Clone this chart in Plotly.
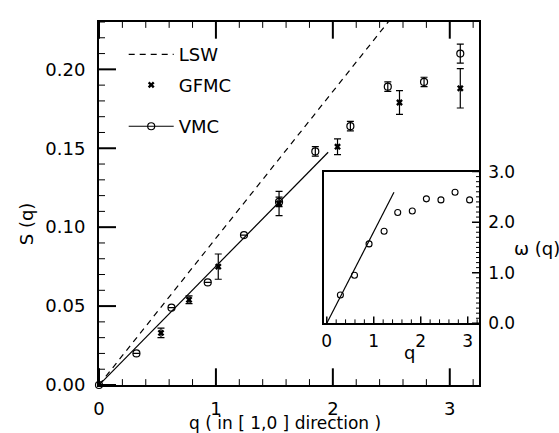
import plotly.graph_objects as go

# ---- data ----
lsw_q = [0.0, 2.5]
lsw_s = [0.0, 0.2325]

vmc_fit_q = [0.0, 1.96]
vmc_fit_s = [0.0, 0.1475]

vmc_q = [0.0, 0.32, 0.62, 0.93, 1.24, 1.54, 1.85, 2.15, 2.47, 2.78, 3.09]
vmc_s = [0.0, 0.020, 0.049, 0.065, 0.095, 0.116, 0.148, 0.164, 0.189, 0.192, 0.210]
vmc_err = [0.0, 0.0, 0.0, 0.0, 0.0, 0.003, 0.003, 0.003, 0.003, 0.003, 0.006]

gfmc_q = [0.53, 0.77, 1.02, 1.54, 2.04, 2.57, 3.09]
gfmc_s = [0.033, 0.054, 0.075, 0.115, 0.151, 0.179, 0.188]
gfmc_err = [0.003, 0.0025, 0.008, 0.0077, 0.005, 0.0075, 0.0125]

inset_q = [0.29, 0.59, 0.90, 1.22, 1.51, 1.82, 2.12, 2.43, 2.73, 3.04]
inset_w = [0.56, 0.95, 1.57, 1.82, 2.19, 2.22, 2.46, 2.44, 2.59, 2.44]
inset_fit_q = [0.0, 1.43]
inset_fit_w = [0.0, 2.59]

# tick positions
main_x_major = [0, 1, 2, 3]
main_x_minor = [round(0.2 * i, 2) for i in range(17) if i % 5 != 0]
main_y_major = [0.0, 0.05, 0.10, 0.15, 0.20]
main_y_minor = [round(0.01 * i, 2) for i in range(24) if i % 5 != 0]
inset_x_major = [0, 1, 2, 3]
inset_x_minor = [round(0.2 * i, 2) for i in range(17) if i % 5 != 0]
inset_y_major = [0.0, 1.0, 2.0, 3.0]
inset_y_minor = [round(0.1 * i, 2) for i in range(31) if i % 10 != 0]

FONT = "DejaVu Sans, Liberation Sans, Arial, sans-serif"
BLACK = "#000000"

MAIN_X_RANGE = [0, 3.25]
MAIN_Y_RANGE = [0, 0.23]
INSET_X_RANGE = [-0.06, 3.24]
INSET_Y_RANGE = [0, 3.0]

W, H = 559, 433
M = dict(l=99, r=80, t=15, b=48)
PW = W - M["l"] - M["r"]
PH = H - M["t"] - M["b"]
INSET_XD = [0.592, 1.0]
INSET_YD = [0.170, 0.588]
IPW = PW * (INSET_XD[1] - INSET_XD[0])
IPH = PH * (INSET_YD[1] - INSET_YD[0])

fig = go.Figure()

fig.add_trace(go.Scatter(x=lsw_q, y=lsw_s, mode="lines", name="LSW",
                         line=dict(color=BLACK, width=1.2, dash="6px,5px"),
                         legend="legend"))
fig.add_trace(go.Scatter(x=gfmc_q, y=gfmc_s, mode="markers", name="GFMC",
                         marker=dict(symbol="x", size=6, color=BLACK),
                         error_y=dict(type="data", array=gfmc_err, color=BLACK,
                                      thickness=1.2, width=3.5),
                         legend="legend2"))
fig.add_trace(go.Scatter(x=vmc_fit_q, y=vmc_fit_s, mode="lines", showlegend=False,
                         line=dict(color=BLACK, width=1.2)))
fig.add_trace(go.Scatter(x=vmc_q, y=vmc_s, mode="markers", showlegend=False,
                         marker=dict(symbol="circle-open", size=7, color=BLACK,
                                     line=dict(width=1.2, color=BLACK)),
                         error_y=dict(type="data", array=vmc_err, color=BLACK,
                                      thickness=1.2, width=3.5),
                         cliponaxis=False))
fig.add_trace(go.Scatter(x=[None], y=[None], mode="lines+markers", name="VMC",
                         line=dict(color=BLACK, width=1.2),
                         marker=dict(symbol="circle-open", size=7, color=BLACK,
                                     line=dict(width=1.2, color=BLACK)),
                         legend="legend3"))

fig.add_trace(go.Scatter(x=inset_fit_q, y=inset_fit_w, mode="lines", showlegend=False,
                         line=dict(color=BLACK, width=1.2), xaxis="x2", yaxis="y2"))
fig.add_trace(go.Scatter(x=inset_q, y=inset_w, mode="markers", showlegend=False,
                         marker=dict(symbol="circle-open", size=6, color=BLACK,
                                     line=dict(width=1.1, color=BLACK)),
                         xaxis="x2", yaxis="y2", cliponaxis=False))

# ---- tick marks drawn as axis-referenced shapes ----
shapes = []


def xticks(vals, xref, yref, length_px, plot_h, width, both=False):
    f = length_px / plot_h
    for v in vals:
        shapes.append(dict(type="line", xref=xref, yref=yref, x0=v, x1=v, y0=0, y1=f,
                           line=dict(color=BLACK, width=width), layer="above"))
        if both:
            shapes.append(dict(type="line", xref=xref, yref=yref, x0=v, x1=v, y0=1, y1=1 - f,
                               line=dict(color=BLACK, width=width), layer="above"))


def yticks(vals, xref, yref, length_px, plot_w, width, right=False):
    f = length_px / plot_w
    for v in vals:
        x0, x1 = (1, 1 - f) if right else (0, f)
        shapes.append(dict(type="line", xref=xref, yref=yref, x0=x0, x1=x1, y0=v, y1=v,
                           line=dict(color=BLACK, width=width), layer="above"))


xticks(main_x_major, "x", "y domain", 17, PH, 2, both=True)
xticks(main_x_minor, "x", "y domain", 6, PH, 1, both=True)
yticks(main_y_major, "x domain", "y", 17, PW, 2)
yticks(main_y_minor, "x domain", "y", 6, PW, 1)
xticks(inset_x_major, "x2", "y2 domain", 7, IPH, 1.5)
xticks(inset_x_minor, "x2", "y2 domain", 4, IPH, 1)
yticks(inset_y_major, "x2 domain", "y2", 7, IPW, 1.5, right=True)
yticks(inset_y_minor, "x2 domain", "y2", 3, IPW, 1, right=True)

leg = dict(x=0.065, xanchor="left", yanchor="middle", bgcolor="rgba(0,0,0,0)",
           font=dict(size=18), itemwidth=45)

common = dict(showgrid=False, zeroline=False, ticks="", tickmode="array")

fig.update_layout(
    width=W, height=H,
    margin=M,
    paper_bgcolor="white", plot_bgcolor="white",
    font=dict(family=FONT, size=17, color=BLACK),
    showlegend=True,
    legend=dict(leg, y=0.91),
    legend2=dict(leg, y=0.826),
    legend3=dict(leg, y=0.712),
    xaxis=dict(common, domain=[0, 1], range=MAIN_X_RANGE, tickvals=main_x_major,
               showline=True, linewidth=2, linecolor=BLACK, mirror=True,
               tickfont=dict(size=18), ticklabelstandoff=6),
    yaxis=dict(common, domain=[0, 1], range=MAIN_Y_RANGE, tickvals=main_y_major,
               tickformat=".2f",
               showline=True, linewidth=2, linecolor=BLACK, mirror=True,
               tickfont=dict(size=18), ticklabelstandoff=8),
    xaxis2=dict(common, domain=INSET_XD, anchor="y2", range=INSET_X_RANGE,
                tickvals=inset_x_major,
                showline=True, linewidth=1.5, linecolor=BLACK, mirror=True,
                tickfont=dict(size=17), ticklabelstandoff=2),
    yaxis2=dict(common, domain=INSET_YD, anchor="x2", side="right",
                range=INSET_Y_RANGE, tickvals=inset_y_major, tickformat=".1f",
                showline=True, linewidth=1.5, linecolor=BLACK, mirror=True,
                tickfont=dict(size=17), ticklabelstandoff=4),
    shapes=shapes,
    annotations=[
        dict(text="S (q)", xref="paper", yref="paper", x=-0.19, y=0.445,
             textangle=-90, showarrow=False, xanchor="center", yanchor="middle",
             font=dict(size=18)),
        dict(text="q ( in [ 1,0 ] direction )", xref="paper", yref="paper", x=0.49, y=-0.104,
             showarrow=False, xanchor="center", yanchor="middle", font=dict(size=17)),
        dict(text="ω (q)", xref="paper", yref="paper", x=1.153, y=0.377,
             showarrow=False, xanchor="center", yanchor="middle", font=dict(size=18)),
        dict(text="q", xref="paper", yref="paper", x=0.818, y=0.089,
             showarrow=False, xanchor="center", yanchor="middle", font=dict(size=18)),
    ],
)

fig.write_html("out.html")
